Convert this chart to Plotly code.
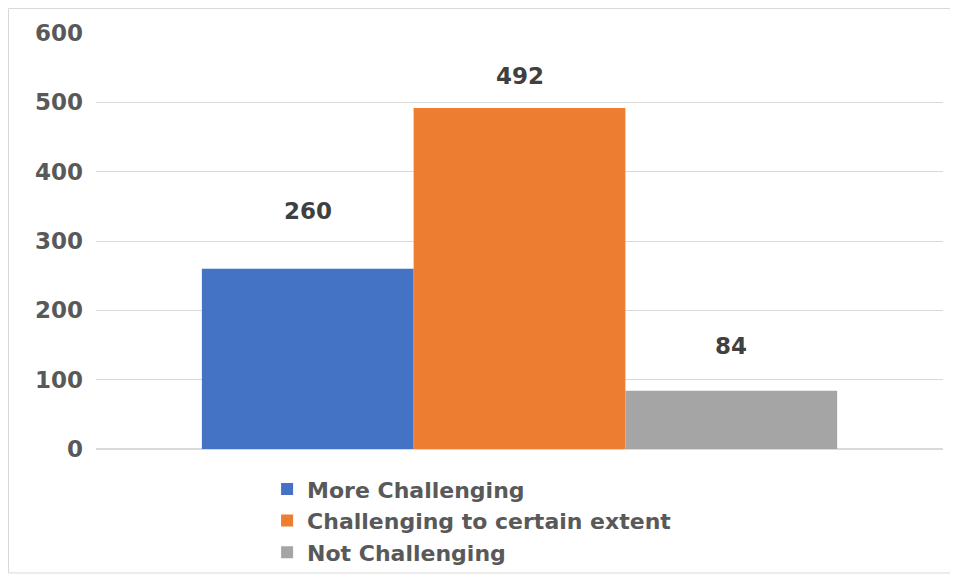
import plotly.graph_objects as go

CATEGORIES = ["More Challenging", "Challenging to certain extent", "Not Challenging"]
VALUES = [260, 492, 84]
COLORS = ["#4472C4", "#ED7D31", "#A5A5A5"]
LABEL_SHIFTS = [58, 32, 45]  # how far each data label sits above its bar (px)

FONT = "DejaVu Sans"

fig = go.Figure()

for cat, val, col in zip(CATEGORIES, VALUES, COLORS):
    fig.add_trace(go.Bar(
        x=[cat],
        y=[val],
        name=cat,
        marker=dict(color=col, line=dict(width=0)),
        width=1,
        hoverinfo="skip",
    ))

for cat, val, shift in zip(CATEGORIES, VALUES, LABEL_SHIFTS):
    fig.add_annotation(
        x=cat, y=val, yshift=shift,
        text=f"<b>{val}</b>",
        showarrow=False,
        yanchor="middle",
        font=dict(family=FONT, size=23, color="#404040"),
    )

# light frame around the whole chart
fig.add_shape(
    type="rect", xref="paper", yref="paper",
    x0=-0.1033, x1=1.0154, y0=-0.298, y1=1.0589,
    line=dict(color="#d9d9d9", width=1),
    layer="below",
)

# the page body has an 8px margin, so the figure is 8px smaller each way
fig.update_layout(
    width=950,
    height=572,
    barmode="overlay",
    plot_bgcolor="white",
    paper_bgcolor="white",
    margin=dict(l=88, r=15, t=25, b=131, autoexpand=False),
    xaxis=dict(
        range=[-1, 3],
        showticklabels=False,
        showgrid=False,
        zeroline=False,
        fixedrange=True,
    ),
    yaxis=dict(
        range=[0, 600],
        dtick=100,
        showgrid=True,
        gridcolor="#d9d9d9",
        gridwidth=1,
        zeroline=True,
        zerolinecolor="#d9d9d9",
        tickfont=dict(family=FONT, size=23, color="#595959", weight="bold"),
        ticklabelstandoff=12,
    ),
    legend=dict(
        x=0.202, y=-0.046,
        xanchor="left", yanchor="top",
        orientation="v",
        font=dict(family=FONT, size=22, color="#595959", weight="bold"),
        itemclick=False,
        bgcolor="rgba(0,0,0,0)",
    ),
    showlegend=True,
)

fig.write_html("out.html")
